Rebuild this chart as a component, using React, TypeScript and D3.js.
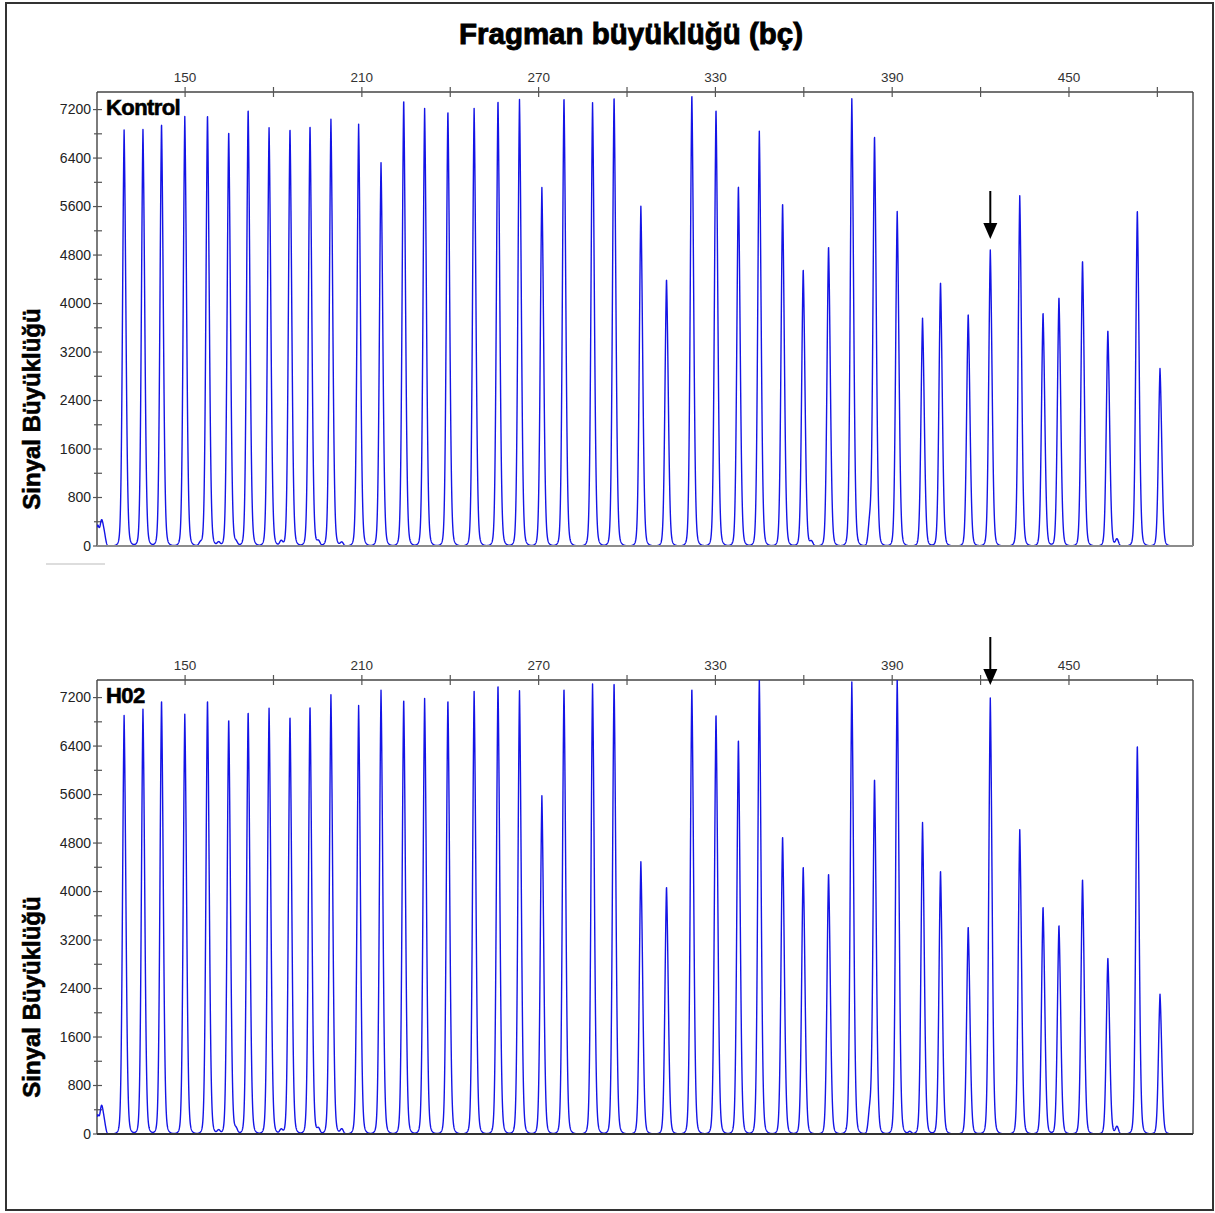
import React from 'react';
import * as d3 from 'd3';

// ---------- data ----------
const titleText = 'Fragman büyüklüğü (bç)';
const yTitleText = 'Sinyal Büyüklüğü';
const panelNames = ['Kontrol', 'H02'];

const xTickValues = [150, 180, 210, 240, 270, 300, 330, 360, 390, 420, 450, 480];
const xLabelValues = [150, 210, 270, 330, 390, 450];
const yMajorTicks = [0, 800, 1600, 2400, 3200, 4000, 4800, 5600, 6400, 7200];
const yMinorTicks = [400, 1200, 2000, 2800, 3600, 4400, 5200, 6000, 6800];

// fragment sizes (bp) of the probe peaks
const peakSizes = [
  129.3, 135.7, 142.0, 149.9, 157.6, 164.8, 171.4, 178.5, 185.6, 192.4,
  199.5, 208.9, 216.5, 224.2, 231.3, 239.2, 248.1, 256.2, 263.5, 271.1,
  278.6, 288.3, 295.6, 304.7, 313.4, 322.0, 330.2, 337.8, 344.9, 352.8,
  359.8, 368.4, 376.3, 384.0, 391.7, 400.3, 406.4, 415.8, 423.3, 433.3,
  441.2, 446.6, 454.6, 463.2, 473.2, 480.9,
];

const kontrolHeights = [
  6864, 6870, 6990, 7085, 7135, 6855, 7225, 6900, 6905, 6955,
  7040, 6960, 6325, 7380, 7220, 7195, 7220, 7370, 7365, 5915,
  7415, 7315, 7430, 5605, 4415, 7465, 7225, 5960, 6845, 5670,
  4578, 4958, 7378, 6785, 5520, 3760, 4365, 3838, 4885, 5780,
  3860, 4115, 4722, 3568, 5555, 2928,
];

const h02Heights = [
  6905, 7010, 7180, 6926, 7180, 6865, 6987, 7025, 6910, 7080,
  7246, 7070, 7320, 7192, 7187, 7180, 7303, 7430, 7313, 5582,
  7374, 7424, 7468, 4491, 4093, 7374, 6948, 6528, 7512, 4923,
  4425, 4309, 7457, 5875, 7512, 5139, 4358, 3429, 7192, 5022,
  3761, 3457, 4216, 2915, 6433, 2307,
];

// small secondary bumps: [bp, height]
const kontrolMinor: [number, number][] = [
  [120.3, 330], [121.6, 380], [122.5, 200], [155.2, 50], [161.4, 60],
  [167.3, 50], [182.6, 80], [195.3, 70], [203.2, 60], [362.6, 70],
  [382.4, 380], [466.3, 110],
];
const h02Minor: [number, number][] = [
  [120.3, 300], [121.6, 420], [122.5, 200], [161.4, 60], [167.3, 70],
  [182.6, 70], [195.3, 80], [203.2, 80], [382.4, 360], [396.0, 40],
  [466.3, 120],
];

const markedSize = 423.3;

// ---------- layout ----------
const W = 1215;
const H = 1213;
const plotLeft = 97;
const plotRight = 1193;
const plotH = 454;
const panelTops = [92, 680];
const xDomain: [number, number] = [120.1, 492.1];
const yDomain: [number, number] = [0, 7490];
const arrowLayout = [
  { start: 99, tip: 147 },
  { start: -43, tip: 5 },
];
const fontFamily = '"Liberation Sans", Arial, Helvetica, sans-serif';
const traceColor = '#1414e6';

// peak profile: gaussian core + exponential tail, slightly wider on the right
function peakShape(d: number) {
  const left = d < 0;
  const s = left ? 0.55 : 0.62;
  const t = left ? 0.6 : 0.7;
  return 0.76 * Math.exp(-(d * d) / (2 * s * s)) + 0.24 * Math.exp(-Math.abs(d) / t);
}

function buildTrace(heights: number[], minor: [number, number][]) {
  const pts: [number, number][] = [];
  const step = 0.04;
  const n = Math.round((xDomain[1] - xDomain[0]) / step);
  for (let i = 0; i <= n; i++) {
    const x = xDomain[0] + i * step;
    let y = 0;
    peakSizes.forEach((c, k) => {
      const d = x - c;
      if (Math.abs(d) < 9) y += heights[k] * peakShape(d);
    });
    minor.forEach(([c, h]) => {
      const d = x - c;
      if (Math.abs(d) < 6) y += h * Math.exp(-(d * d) / (2 * 0.5 * 0.5));
    });
    pts.push([x, y]);
  }
  return pts;
}

const panels = [
  { name: panelNames[0], heights: kontrolHeights, minor: kontrolMinor, baseColor: '#8c8c8c' },
  { name: panelNames[1], heights: h02Heights, minor: h02Minor, baseColor: '#333' },
];

function Panel({ idx }: { idx: number }) {
  const p = panels[idx];
  const top = panelTops[idx];
  const bottom = top + plotH;
  const x = d3.scaleLinear().domain(xDomain).range([plotLeft, plotRight]);
  const y = d3.scaleLinear().domain(yDomain).range([bottom, top]);
  const data = buildTrace(p.heights, p.minor);
  const line = d3
    .line<[number, number]>()
    .x((d) => x(d[0]))
    .y((d) => y(d[1]))
    .curve(d3.curveLinear);
  const clipId = `clip-${idx}`;
  const ax = x(markedSize);
  const ar = arrowLayout[idx];
  return (
    <g>
      <defs>
        <clipPath id={clipId}>
          <rect x={plotLeft} y={top} width={plotRight - plotLeft} height={plotH + 1} />
        </clipPath>
      </defs>
      {/* frame */}
      <line x1={plotLeft} x2={plotRight} y1={top} y2={top} stroke="#444" strokeWidth={1.4} />
      <line x1={plotRight} x2={plotRight} y1={top} y2={bottom} stroke="#444" strokeWidth={1.4} />
      <line x1={plotLeft} x2={plotLeft} y1={top} y2={bottom} stroke="#444" strokeWidth={1.4} />
      {/* top axis ticks */}
      {xTickValues.map((v) => (
        <line key={v} x1={x(v)} x2={x(v)} y1={top - 5} y2={top + 5} stroke="#555" strokeWidth={1.2} />
      ))}
      {xLabelValues.map((v) => (
        <text key={v} x={x(v)} y={top - 10} textAnchor="middle" fontFamily={fontFamily} fontSize={13.5} fill="#333">
          {v}
        </text>
      ))}
      {/* y ticks */}
      {yMajorTicks.map((v) => (
        <g key={v}>
          <line x1={plotLeft - 4} x2={plotLeft + 5} y1={y(v)} y2={y(v)} stroke="#555" strokeWidth={1.2} />
          <text x={plotLeft - 6} y={y(v)} dy="0.35em" textAnchor="end" fontFamily={fontFamily} fontSize={14} fill="#222">
            {v}
          </text>
        </g>
      ))}
      {yMinorTicks.map((v) => (
        <line key={v} x1={plotLeft - 3} x2={plotLeft + 5} y1={y(v)} y2={y(v)} stroke="#555" strokeWidth={1.2} />
      ))}
      {/* trace */}
      <path d={line(data) || ''} fill="none" stroke={traceColor} strokeWidth={1.4} strokeLinejoin="round" clipPath={`url(#${clipId})`} />
      {/* baseline */}
      <line x1={plotLeft} x2={plotRight} y1={bottom} y2={bottom} stroke={p.baseColor} strokeWidth={2} />
      {/* panel label */}
      <text x={plotLeft + 9} y={top + 23} fontFamily={fontFamily} fontWeight="bold" fontSize={22} fill="#000" stroke="#000" strokeWidth={0.6} letterSpacing={-0.6}>
        {p.name}
      </text>
      {/* y title */}
      <text
        transform={`translate(39.5, ${top + plotH / 2 + 90}) rotate(-90)`}
        textAnchor="middle"
        fontFamily={fontFamily}
        fontWeight="bold"
        fontSize={24}
        fill="#000"
        stroke="#000"
        strokeWidth={0.6}
      >
        {yTitleText}
      </text>
      {/* arrow */}
      <line x1={ax} x2={ax} y1={top + ar.start} y2={top + ar.tip - 12} stroke="#000" strokeWidth={2} />
      <polygon
        points={`${ax - 7},${top + ar.tip - 16} ${ax + 7},${top + ar.tip - 16} ${ax},${top + ar.tip}`}
        fill="#000"
      />
    </g>
  );
}

export default function App() {
  return (
    <svg
      width={W}
      height={H}
      viewBox={`0 0 ${W} ${H}`}
      style={{ position: 'absolute', left: 0, top: 0, background: '#fff' }}
    >
      <rect x={0} y={0} width={W} height={H} fill="#fff" />
      <rect x={6} y={3} width={1207} height={1207} fill="none" stroke="#333" strokeWidth={2} />
      <text
        x={631}
        y={44}
        textAnchor="middle"
        fontFamily={fontFamily}
        fontWeight="bold"
        fontSize={29}
        fill="#000"
        stroke="#000"
        strokeWidth={0.9}
        textLength={344}
        lengthAdjust="spacingAndGlyphs"
      >
        {titleText}
      </text>
      <line x1={46} x2={105} y1={564} y2={564} stroke="#bbb" strokeWidth={1} />
      <Panel idx={0} />
      <Panel idx={1} />
    </svg>
  );
}
